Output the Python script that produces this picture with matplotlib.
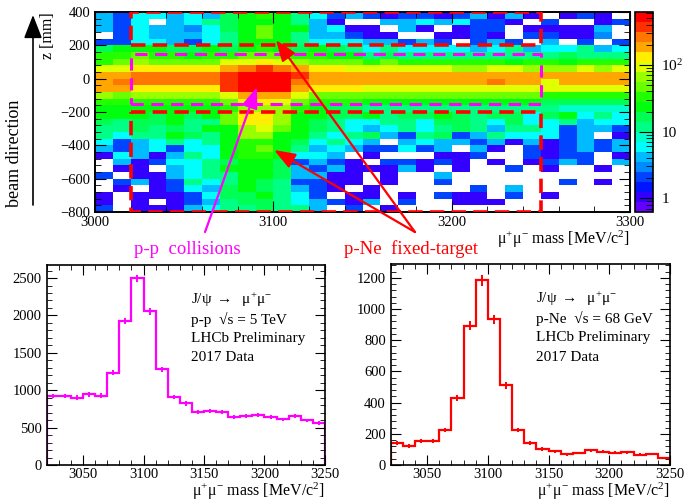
import colorsys
import numpy as np
import matplotlib
matplotlib.use('Agg')
import matplotlib.pyplot as plt
from matplotlib.colors import ListedColormap, LogNorm
from matplotlib.ticker import MultipleLocator, LogLocator, NullFormatter

plt.rcParams['font.family'] = ['Liberation Serif', 'DejaVu Serif']
plt.rcParams['mathtext.fontset'] = 'custom'
plt.rcParams['mathtext.rm'] = 'Liberation Serif'
plt.rcParams['mathtext.it'] = 'Liberation Serif:italic'

# 2D histogram: mu+mu- mass (10 MeV bins, 3000-3300) vs z (40 mm bins, -800..400)
mass_edges = np.arange(3000, 3301, 10)
z_edges = np.arange(-800, 401, 40)

# rows from top (z = 360..400) to bottom (z = -800..-760)
counts = [
    [4, 2, 6, 6, 4, 6, 4, 15, 25, 30, 25, 12, 6, 2, 4, 2, 1, 2, 2, 1, 2, 4, 1, 4, 1, 0, 1, 2, 1, 0],
    [4, 2, 6, 0, 4, 6, 10, 15, 25, 25, 25, 10, 4, 1, 0, 0, 4, 4, 6, 4, 6, 2, 2, 1, 0, 2, 0, 0, 1, 2],
    [4, 2, 6, 4, 4, 3, 6, 15, 25, 50, 25, 25, 4, 6, 1, 1, 0, 4, 1, 0, 1, 2, 2, 0, 1, 1, 1, 1, 4, 0],
    [0, 2, 6, 4, 4, 4, 6, 10, 25, 40, 25, 10, 4, 4, 2, 1, 1, 0, 0, 1, 1, 2, 1, 0, 2, 2, 1, 1, 3, 0],
    [2, 2, 6, 6, 4, 2, 6, 10, 25, 25, 25, 10, 6, 6, 6, 4, 4, 2, 4, 2, 0, 2, 4, 2, 0, 4, 0, 2, 0, 2],
    [15, 25, 25, 25, 15, 15, 25, 15, 25, 30, 25, 15, 25, 15, 10, 6, 10, 6, 6, 6, 6, 4, 6, 10, 4, 6, 6, 10, 4, 6],
    [30, 30, 40, 30, 30, 25, 30, 30, 45, 55, 45, 30, 30, 25, 25, 12, 15, 12, 12, 12, 12, 12, 12, 12, 12, 10, 15, 12, 12, 12],
    [35, 55, 60, 50, 50, 45, 50, 80, 110, 130, 110, 70, 45, 45, 40, 30, 45, 30, 30, 30, 30, 30, 30, 20, 30, 30, 20, 30, 30, 30],
    [110, 110, 130, 130, 130, 130, 130, 170, 260, 330, 260, 160, 120, 120, 110, 100, 100, 100, 100, 100, 70, 70, 100, 100, 70, 70, 70, 100, 70, 100],
    [220, 220, 230, 230, 230, 230, 230, 320, 550, 600, 550, 320, 220, 220, 210, 200, 200, 200, 200, 200, 200, 200, 200, 200, 200, 170, 200, 200, 200, 200],
    [220, 300, 230, 230, 230, 230, 230, 320, 550, 600, 550, 300, 220, 220, 210, 200, 200, 200, 200, 200, 200, 200, 260, 200, 200, 110, 200, 200, 200, 200],
    [160, 180, 130, 130, 130, 130, 130, 320, 500, 550, 450, 200, 130, 130, 130, 110, 110, 110, 110, 110, 110, 110, 110, 110, 110, 100, 100, 100, 100, 100],
    [60, 40, 60, 60, 60, 60, 60, 110, 200, 220, 180, 110, 55, 55, 55, 45, 45, 45, 45, 45, 45, 45, 45, 45, 45, 30, 35, 30, 30, 30],
    [30, 30, 30, 30, 30, 30, 30, 55, 110, 120, 100, 55, 30, 30, 30, 25, 25, 25, 25, 25, 25, 25, 25, 20, 25, 15, 15, 15, 15, 15],
    [20, 25, 25, 20, 25, 20, 25, 35, 60, 70, 60, 35, 20, 15, 15, 12, 12, 10, 12, 10, 10, 10, 12, 10, 10, 10, 8, 8, 8, 8],
    [25, 25, 25, 15, 25, 15, 25, 55, 130, 130, 60, 25, 25, 15, 15, 20, 10, 15, 15, 25, 15, 10, 15, 15, 6, 15, 20, 6, 10, 6],
    [15, 10, 15, 15, 25, 10, 10, 55, 120, 130, 60, 25, 15, 10, 6, 6, 10, 10, 6, 15, 15, 10, 6, 15, 6, 6, 10, 4, 6, 6],
    [10, 10, 15, 10, 15, 10, 25, 25, 60, 100, 55, 25, 15, 10, 6, 4, 6, 10, 6, 10, 15, 10, 4, 10, 10, 6, 2, 4, 4, 2],
    [10, 6, 10, 10, 25, 15, 10, 25, 60, 60, 25, 25, 10, 6, 10, 15, 4, 2, 10, 15, 2, 4, 10, 6, 6, 6, 2, 4, 0, 1],
    [6, 2, 4, 6, 10, 6, 10, 25, 30, 30, 25, 15, 6, 10, 6, 4, 0, 4, 6, 4, 4, 2, 4, 1, 4, 1, 2, 4, 2, 4],
    [4, 2, 4, 6, 2, 6, 6, 25, 30, 50, 25, 10, 4, 6, 4, 2, 2, 6, 2, 4, 0, 4, 1, 0, 2, 1, 2, 4, 2, 4],
    [1, 6, 4, 1, 4, 10, 6, 25, 30, 30, 25, 6, 6, 4, 0, 1, 0, 0, 0, 1, 1, 2, 0, 0, 2, 1, 2, 2, 0, 1],
    [0, 4, 1, 2, 6, 6, 10, 15, 25, 25, 15, 2, 4, 2, 1, 0, 2, 2, 1, 2, 1, 0, 1, 0, 1, 2, 4, 2, 0, 4],
    [0, 1, 1, 0, 4, 6, 10, 25, 25, 25, 15, 4, 2, 4, 1, 1, 1, 4, 1, 0, 1, 0, 0, 2, 0, 1, 0, 0, 1, 0],
    [2, 0, 1, 1, 4, 6, 10, 10, 25, 25, 15, 4, 4, 1, 1, 0, 1, 0, 0, 4, 0, 0, 0, 0, 0, 0, 0, 0, 0, 0],
    [0, 2, 4, 1, 2, 10, 6, 10, 25, 15, 10, 2, 2, 1, 1, 0, 1, 0, 0, 2, 0, 0, 0, 0, 0, 0, 2, 0, 1, 0],
    [0, 1, 0, 1, 2, 6, 4, 15, 25, 15, 10, 4, 2, 1, 0, 1, 0, 0, 0, 0, 0, 2, 0, 4, 0, 0, 0, 0, 0, 0],
    [1, 0, 1, 1, 1, 2, 6, 15, 15, 25, 10, 6, 2, 0, 1, 1, 0, 1, 0, 2, 1, 1, 0, 2, 0, 1, 0, 0, 0, 0],
    [1, 0, 1, 0, 1, 2, 4, 10, 15, 15, 10, 6, 4, 2, 1, 4, 0, 2, 0, 0, 1, 1, 1, 0, 0, 0, 0, 0, 0, 0],
    [2, 0, 1, 1, 1, 4, 6, 10, 10, 15, 10, 10, 4, 0, 2, 0, 1, 0, 0, 0, 0, 0, 0, 0, 0, 0, 0, 0, 0, 0],
]

# 1D projections, 10 MeV bins from 3020 to 3250
hist_edges = np.arange(3020, 3251, 10)
pp_counts = [923, 923, 900, 945, 927, 1236, 1926, 2495, 2056, 1281, 909, 824,
             708, 717, 708, 641, 654, 668, 641, 609, 659, 596, 560]
pne_counts = [143, 122, 154, 156, 224, 431, 893, 1185, 933, 512, 224, 139,
              102, 88, 68, 77, 94, 85, 79, 81, 66, 70, 47]

mass_label = 'μ$^{+}$μ$^{-}$ mass [MeV/c$^{2}$]'

# ROOT "pretty" palette (violet -> red), 20 contour levels
pal = [colorsys.hls_to_rgb((280 - (k + 1) * 5.6) / 360, 0.5, 1.0) for k in range(49)]
pal.append((1.0, 0.0, 0.0))
ncont = 20
cmap = ListedColormap([pal[int((i + 0.99) * 50 / ncont)] for i in range(ncont)])
norm = LogNorm(vmin=0.62, vmax=624)

fig = plt.figure(figsize=(6.84, 5.01), dpi=100)
ax = fig.add_axes([0.1389, 0.5768, 0.7822, 0.3992])
cax = fig.add_axes([0.9284, 0.5768, 0.0263, 0.3992])
ax1 = fig.add_axes([0.0683, 0.0719, 0.4068, 0.3992])
ax2 = fig.add_axes([0.5712, 0.0719, 0.4083, 0.4010])

z = np.ma.masked_equal(np.flipud(np.array(counts, dtype=float)), 0)
mesh = ax.pcolormesh(mass_edges, z_edges, z, cmap=cmap, norm=norm)
ax.set_xlim(3000, 3300)
ax.set_ylim(-800, 400)
ax.xaxis.set_major_locator(MultipleLocator(100))
ax.xaxis.set_minor_locator(MultipleLocator(20))
ax.yaxis.set_major_locator(MultipleLocator(200))
ax.yaxis.set_minor_locator(MultipleLocator(40))
ax.tick_params(which='both', direction='in', top=True, right=True, labelsize=10.5)
ax.tick_params(which='major', length=8)
ax.tick_params(which='minor', length=4)
ax.tick_params(axis='x', pad=3)
ax.set_xlabel(mass_label, loc='right', fontsize=11.5, labelpad=0)
ax.set_ylabel('z [mm]', loc='top', fontsize=11.5)
ax.yaxis.set_label_coords(-0.072, 1.0)
for s in ax.spines.values():
    s.set_linewidth(1.4)

# selection boxes
red_kw = dict(color='red', lw=2.6, ls=(0, (4, 2)), zorder=5)
mag_kw = dict(color='magenta', lw=2.2, ls=(0, (4, 2.5)), zorder=6)
ax.plot([3020, 3250, 3250, 3020, 3020], [200, 200, 400, 400, 200], **red_kw)
ax.plot([3020, 3250, 3250, 3020, 3020], [-200, -200, -800, -800, -200], **red_kw)
ax.plot([3020, 3250, 3250, 3020, 3020], [-150, -150, 150, 150, -150], **mag_kw)

cb = fig.colorbar(mesh, cax=cax)
cb.outline.set_linewidth(1.2)
cb.set_ticks([1, 10, 100])
cb.set_ticklabels(['1', '10', '10$^{2}$'])
cax.yaxis.set_minor_locator(LogLocator(subs=np.arange(2, 10)))
cax.yaxis.set_minor_formatter(NullFormatter())
cax.tick_params(which='both', direction='in', right=True, labelsize=11, pad=6)
cax.tick_params(which='major', length=10)
cax.tick_params(which='minor', length=5)

# arrows and labels
head = '-|>,head_length=0.8,head_width=0.3'
ax.annotate('', xy=(3090.8, -50), xytext=(3061.7, -920), annotation_clip=False,
            arrowprops=dict(arrowstyle=head, color='magenta', lw=1.6, mutation_scale=16,
                            shrinkA=0, shrinkB=0), zorder=8)
ax.annotate('', xy=(3101.5, 232), xytext=(3179.4, -920), annotation_clip=False,
            arrowprops=dict(arrowstyle=head, color='red', lw=1.6, mutation_scale=16,
                            shrinkA=0, shrinkB=0), zorder=8)
ax.annotate('', xy=(3100.4, -428), xytext=(3179.4, -920), annotation_clip=False,
            arrowprops=dict(arrowstyle=head, color='red', lw=1.6, mutation_scale=16,
                            shrinkA=0, shrinkB=0), zorder=8)
ax.text(3052, -1025, 'p-p  collisions', color='magenta', fontsize=13.5,
        ha='center', va='center', clip_on=False)
ax.text(3177, -1025, 'p-Ne  fixed-target', color='red', fontsize=13.5,
        ha='center', va='center', clip_on=False)

fig.text(15 / 684, 1 - 153 / 501, 'beam direction', rotation=90, fontsize=13,
         ha='center', va='center')
ax.annotate('', xy=(33, 486), xytext=(33, 296), xycoords='figure pixels',
            textcoords='figure pixels', annotation_clip=False,
            arrowprops=dict(arrowstyle='-|>,head_length=0.9,head_width=0.35', color='black',
                            lw=1.2, mutation_scale=16, shrinkA=0, shrinkB=0))

# bottom projections
centers = (hist_edges[:-1] + hist_edges[1:]) / 2
for a, vals, col, ymax, major, minor, energy in [
        (ax1, pp_counts, 'magenta', 2675, 500, 100, 'p-p  √s = 5 TeV'),
        (ax2, pne_counts, 'red', 1288, 200, 40, 'p-Ne  √s = 68 GeV')]:
    vals = np.array(vals, dtype=float)
    a.stairs(vals, hist_edges, baseline=0, color=col, lw=1.6)
    a.errorbar(centers, vals, yerr=np.sqrt(vals), fmt='none', ecolor=col,
               elinewidth=1.4, capsize=0)
    a.set_xlim(3020, 3250)
    a.set_ylim(0, ymax)
    a.xaxis.set_major_locator(MultipleLocator(50))
    a.xaxis.set_minor_locator(MultipleLocator(10))
    a.yaxis.set_major_locator(MultipleLocator(major))
    a.yaxis.set_minor_locator(MultipleLocator(minor))
    a.tick_params(which='both', direction='in', top=True, right=True, labelsize=10.5)
    a.tick_params(which='major', length=7)
    a.tick_params(which='minor', length=3.5)
    a.tick_params(axis='x', pad=2)
    a.set_xlabel(mass_label, loc='right', fontsize=11.5, labelpad=0)
    for s in a.spines.values():
        s.set_linewidth(1.2)
    lines = ['J/ψ $\\rightarrow$  μ$^{+}$μ$^{-}$', energy,
             'LHCb Preliminary', '2017 Data']
    for i, t in enumerate(lines):
        a.text(0.52, 0.825 - i * 0.096, t, transform=a.transAxes, fontsize=11,
               ha='left', va='center')

fig.savefig('out.png', dpi=100)
